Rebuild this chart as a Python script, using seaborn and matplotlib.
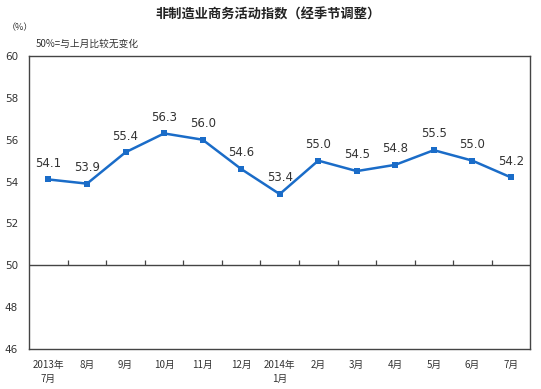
import numpy as np
import pandas as pd
import matplotlib
matplotlib.use("Agg")
import matplotlib.pyplot as plt
import seaborn as sns

# non-manufacturing business activity index (seasonally adjusted)
months = ["2013年\n7月", "8月", "9月", "10月", "11月", "12月", "2014年\n1月",
          "2月", "3月", "4月", "5月", "6月", "7月"]
values = [54.1, 53.9, 55.4, 56.3, 56.0, 54.6, 53.4, 55.0, 54.5, 54.8, 55.5, 55.0, 54.2]
y_ticks = [46, 48, 50, 52, 54, 56, 58, 60]

sns.set_style("white")
plt.rcParams["font.family"] = ["Noto Sans CJK SC", "DejaVu Sans"]

df = pd.DataFrame({"pos": np.arange(len(months)), "value": values})

fig = plt.figure(figsize=(5.41, 3.89), dpi=100)
ax = fig.add_axes([0.054, 0.103, 0.926, 0.753])

line_color = "#1a6cc8"
sns.lineplot(data=df, x="pos", y="value", ax=ax, color=line_color, linewidth=1.8,
             marker="s", markersize=4.5, markeredgewidth=0, markerfacecolor=line_color)

for x, v in zip(df["pos"], df["value"]):
    ax.annotate(f"{v:.1f}", (x, v), xytext=(0, 7), textcoords="offset points",
                ha="center", va="bottom", fontsize=8.5, color="#333333",
                family="DejaVu Sans")

# 50% reference line with small ticks between months
ax.axhline(50, color="#444444", linewidth=1.0)
ax.vlines(np.arange(0.5, len(months) - 1), 50, 50.25, color="#444444", linewidth=0.9)

ax.set_xlim(-0.5, len(months) - 0.5)
ax.set_ylim(46, 60)
ax.set_yticks(y_ticks)
ax.set_yticklabels([str(t) for t in y_ticks], fontsize=7.5, color="#333333",
                   family="DejaVu Sans")
ax.set_xticks(df["pos"])
ax.set_xticklabels(months, fontsize=7, color="#333333", linespacing=1.5)
ax.tick_params(axis="both", length=0)
ax.tick_params(axis="y", pad=8)
ax.tick_params(axis="x", pad=8)
ax.set_xlabel("")
ax.set_ylabel("")

for s in ax.spines.values():
    s.set_color("#444444")
    s.set_linewidth(1.0)

fig.text(0.496, 0.962, "非制造业商务活动指数（经季节调整）", ha="center", va="center",
         fontsize=9.5, color="#222222", fontweight="bold")
fig.text(0.012, 0.928, "（%）", ha="left", va="center", fontsize=6.5, color="#333333")
fig.text(0.066, 0.887, "50%=与上月比较无变化", ha="left", va="center",
         fontsize=7, color="#333333")

fig.savefig("out.png", dpi=100)
